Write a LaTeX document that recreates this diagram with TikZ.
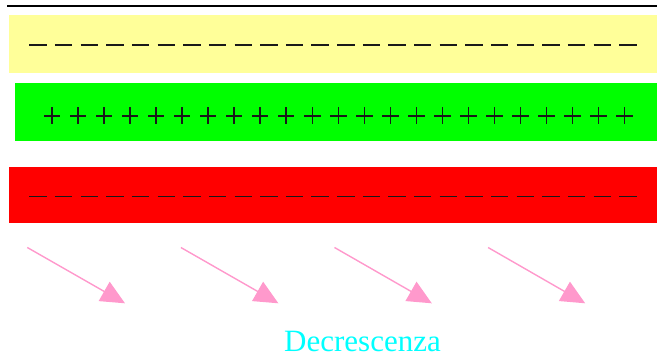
\documentclass[tikz,border=0pt]{standalone}
\usepackage{fontspec}
\setmainfont{Liberation Serif}
\usetikzlibrary{positioning, arrows.meta}
\definecolor{paleyellow}{HTML}{FFFF99}
\definecolor{pinkarrow}{HTML}{FF99CC}
\definecolor{brightcyan}{HTML}{00FFFF}
\tikzset{
  band/.style={rectangle, inner sep=0pt, draw=none},
  minusmark/.style={line width=1.9pt, color=black!90},
  plusmark/.style={line width=1.6pt, color=black!90},
  trend/.style={draw=pinkarrow, fill=pinkarrow, line width=1.4pt, -{Triangle[length=24pt, width=22pt]}}
}
\begin{document}
\begin{tikzpicture}[x=1pt, y=-1pt]
			\useasboundingbox (0,0) rectangle (657,360);
			% Define the nodes
			\node (yellowband) [band, fill=paleyellow, minimum width=648pt, minimum height=58pt] at (333,44) {};
			\node (greenband) [band, fill=green, minimum width=642pt, minimum height=58pt] at (336,112) {};
			\node (redband) [band, fill=red, minimum width=648pt, minimum height=56pt] at (333,195) {};
			\node (label) [anchor=base west, inner sep=0pt, text=brightcyan, font=\fontsize{31}{37}\selectfont] at (284,351) {Decrescenza};
			% Top rule
			\draw [line width=2pt] (7,6) -- (657,6);
			% Signs in the bands
			\foreach \i in {0,...,23} {
				\draw [minusmark] (29.3+25.65*\i,45) -- ++(17.4,0);
				\draw [minusmark] (29.3+25.65*\i,196.5) -- ++(17.4,0);
			}
			\foreach \i in {0,...,22} {
				\draw [plusmark] (44+26.01*\i,115.7) -- ++(16.4,0);
				\draw [plusmark] (52.2+26.01*\i,107.4) -- ++(0,16.6);
			}
			% Connect the nodes
			\foreach \i in {1,...,4} {
				\coordinate (from\i) at (27.3+153.6*\i-153.6,247.5);
				\coordinate (to\i) at (125+153.4*\i-153.4,303.3);
				\draw [trend] (from\i) -- (to\i);
			}
\end{tikzpicture}
\end{document}
